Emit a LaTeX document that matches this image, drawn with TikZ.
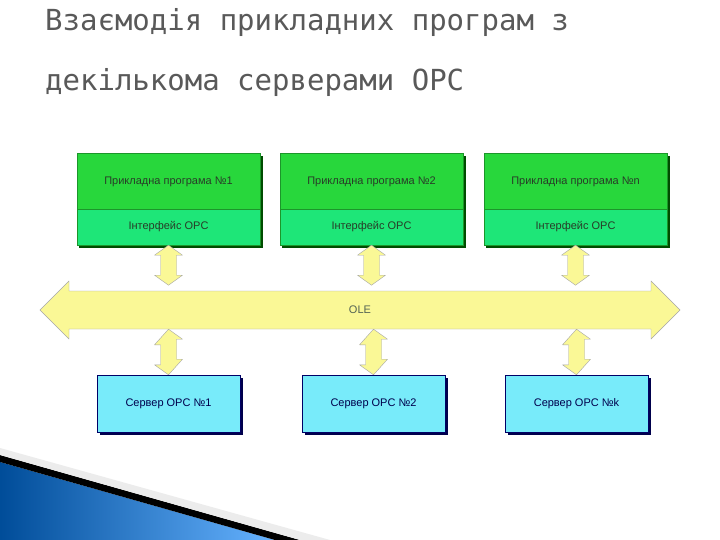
\documentclass[tikz,border=0pt]{standalone}
\usepackage{fontspec}
\setmainfont{Liberation Sans}
\newfontfamily\titlefont{DejaVu Sans Mono}
\usetikzlibrary{shapes.arrows,shadows}
\definecolor{gr}{RGB}{40,215,60}
\definecolor{gr2}{RGB}{30,230,120}
\definecolor{cy}{RGB}{120,235,250}
\definecolor{yl}{RGB}{250,248,150}
\definecolor{tx}{RGB}{40,60,40}
\begin{document}
\begin{tikzpicture}[x=1pt,y=-1pt,
  appbox/.style={draw=gr!70!black,fill=gr,minimum width=183pt,minimum height=56pt,inner sep=0pt,font=\fontsize{11}{12}\selectfont,text=tx},
  ifbox/.style={draw=gr!70!black,fill=gr2,minimum width=183pt,minimum height=36pt,inner sep=0pt,font=\fontsize{11}{12}\selectfont,text=tx},
  srvbox/.style={draw=blue!40!black,fill=cy,minimum width=143pt,minimum height=57pt,inner sep=0pt,font=\fontsize{11}{12}\selectfont,text=blue!30!black,
     drop shadow={shadow xshift=3pt,shadow yshift=-3pt,fill=blue!30!black,opacity=1}},
  varr/.style={draw=gray!70,fill=yl,line join=round},
]
\useasboundingbox (0,0) rectangle (720,540);
\fill[white] (0,0) rectangle (720,540);
\node[anchor=north west,align=left,text=black!65,font=\titlefont\fontsize{29}{60}\selectfont,inner sep=0pt] (title) at (45,8) {Взаємодія прикладних програм з\\декількома серверами ОРС};
% OLE arrow
\node[double arrow,draw=gray!70,fill=yl,minimum width=58pt,double arrow head extend=8pt,double arrow head indent=0pt,minimum height=640pt,inner sep=0pt,text depth=0pt,text height=30pt,font=\fontsize{11}{12}\selectfont,text=tx] (ole) at (360,310) {};
\node[text=tx!80,font=\fontsize{11}{12}\selectfont] (olet) at (ole.center) {OLE};
\foreach \i/\x/\t in {1/168.5/№1,2/371.5/№2,3/575.5/№n}{
  \fill[black!70!green] (\x-89.5,156) rectangle (\x+94.5,248);
  \node[appbox] (a\i) at (\x,181) {};
  \node[ifbox] (f\i) at (\x,227) {Інтерфейс OPC};
  \node[tx,font=\fontsize{11}{12}\selectfont] (t\i) at (\x,182) {Прикладна програма \t};
  \draw[varr] (f\i.south) ++(0,0) -- ++(14,10) -- ++(-6,0) -- ++(0,20) -- ++(6,0) -- ++(-14,10) -- ++(-14,-10) -- ++(6,0) -- ++(0,-20) -- ++(-6,0) -- cycle;
}
\foreach \i/\x/\t in {1/168.5/№1,2/373.5/№2,3/576.5/№k}{
  \node[srvbox] (s\i) at (\x,403.5) {Сервер OPC \t};
  \draw[varr] (s\i.north |- ole.south) -- ++(14,10) -- ++(-6,0) -- ++(0,20) -- ++(6,0) -- (s\i.north) -- ++(-14,-10) -- ++(6,0) -- ++(0,-20) -- ++(-6,0) -- cycle;
}
% bottom-left decoration
\shade[left color=blue!50!cyan!60!black,right color=cyan!50!blue!60] (0,462) -- (275,540) -- (0,540) -- cycle;
\fill[black] (0,455) -- (300,540) -- (275,540) -- (0,462) -- cycle;
\fill[gray!15] (0,448) -- (330,540) -- (300,540) -- (0,455) -- cycle;
\end{tikzpicture}
\end{document}
